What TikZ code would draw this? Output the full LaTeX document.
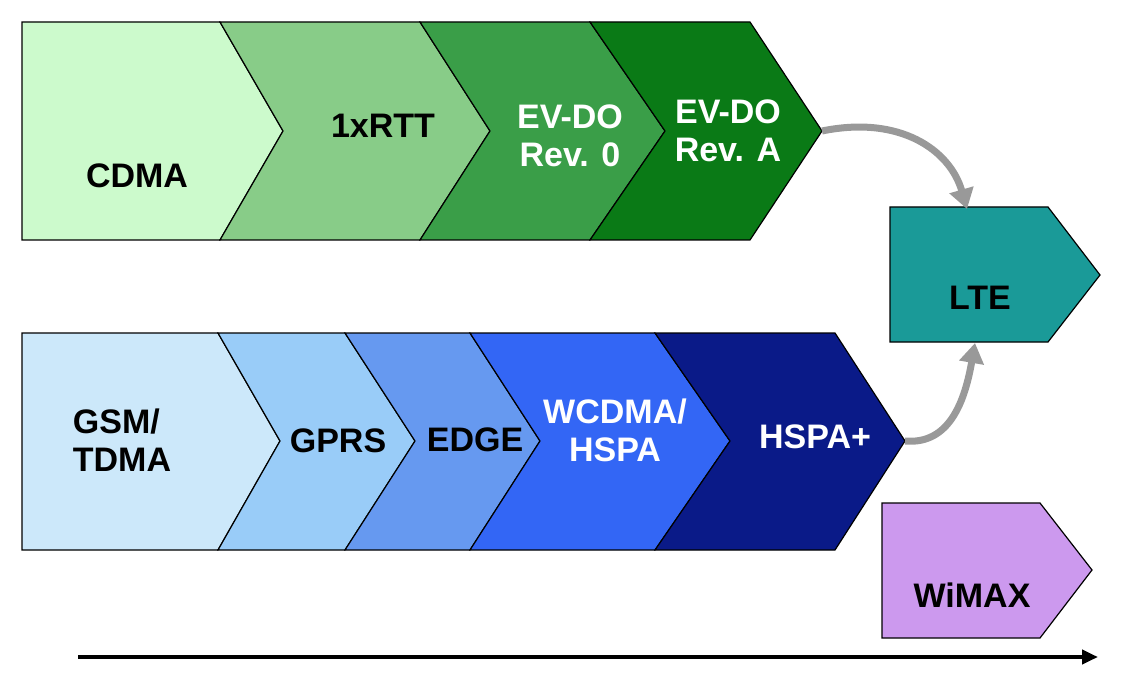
\documentclass[tikz,border=0pt]{standalone}
\usepackage{fontspec}
\setmainfont{Liberation Sans}
\usetikzlibrary{arrows.meta}
\definecolor{c1}{HTML}{CCFACC}\definecolor{c2}{HTML}{88CC88}\definecolor{c3}{HTML}{3A9E48}\definecolor{c4}{HTML}{0A7A16}
\definecolor{g1}{HTML}{CCE8FA}\definecolor{g2}{HTML}{99CCF8}\definecolor{g3}{HTML}{6699F0}\definecolor{g4}{HTML}{3366F5}\definecolor{g5}{HTML}{0A1A88}
\definecolor{lte}{HTML}{1A9A98}\definecolor{wim}{HTML}{CC99EE}
\begin{document}
\begin{tikzpicture}[x=1pt,y=-1pt,
 sh/.style={draw=black,line width=1.2pt,line join=miter},
 lb/.style={font=\fontsize{34}{38}\selectfont\bfseries,align=center},
 gr/.style={draw=gray!80,line width=7pt,-{Triangle[length=20pt,width=24pt]}}]
\useasboundingbox (0,0) rectangle (1132,676);
% top row
\filldraw[sh,fill=c1] (22,22)--(220,22)--(283,131)--(220,240)--(22,240)--cycle;
\filldraw[sh,fill=c2] (220,22)--(420,22)--(490,131)--(420,240)--(220,240)--(283,131)--cycle;
\filldraw[sh,fill=c3] (420,22)--(590,22)--(665,131)--(590,240)--(420,240)--(490,131)--cycle;
\filldraw[sh,fill=c4] (590,22)--(750,22)--(822,131)--(750,240)--(590,240)--(665,131)--cycle;
\node[lb] (cdma) at (137,176) {CDMA};
\node[lb] (rtt) at (383,126) {1xRTT};
\node[lb,text=white] (ev0) at (570,136) {EV-DO\\Rev. 0};
\node[lb,text=white] (eva) at (728,131) {EV-DO\\Rev. A};
% bottom row
\filldraw[sh,fill=g1] (22,333)--(218,333)--(280,441)--(218,550)--(22,550)--cycle;
\filldraw[sh,fill=g2] (218,333)--(345,333)--(415,441)--(345,550)--(218,550)--(280,441)--cycle;
\filldraw[sh,fill=g3] (345,333)--(470,333)--(540,441)--(470,550)--(345,550)--(415,441)--cycle;
\filldraw[sh,fill=g4] (470,333)--(655,333)--(730,441)--(655,550)--(470,550)--(540,441)--cycle;
\filldraw[sh,fill=g5] (655,333)--(835,333)--(905,441)--(835,550)--(655,550)--(730,441)--cycle;
\node[lb,align=left] (gsm) at (122,440) {GSM/\\TDMA};
\node[lb] (gprs) at (338,441) {GPRS};
\node[lb] (edge) at (475,440) {EDGE};
\node[lb,text=white] (wc) at (615,430) {WCDMA/\\HSPA};
\node[lb,text=white] (hspa) at (815,437) {HSPA+};
% LTE, WiMAX
\filldraw[sh,fill=lte] (890,207)--(1048,207)--(1100,275)--(1048,342)--(890,342)--cycle;
\node[lb] (lteN) at (980,298) {LTE};
\filldraw[sh,fill=wim] (882,503)--(1040,503)--(1092,570)--(1040,638)--(882,638)--cycle;
\node[lb] (wimN) at (972,595) {WiMAX};
\coordinate (a1) at (822,131); \coordinate (a2) at (967,209);
\coordinate (b1) at (905,441); \coordinate (b2) at (975,343);
\draw[gr] (a1) .. controls (900,115) and (950,150) .. (a2);
\draw[gr] (b1) .. controls (950,445) and (965,400) .. (b2);
\coordinate (t1) at (78,657); \coordinate (t2) at (1098,657);
\draw[line width=4pt,-{Triangle[length=16pt,width=14pt]}] (t1)--(t2);
\end{tikzpicture}
\end{document}
